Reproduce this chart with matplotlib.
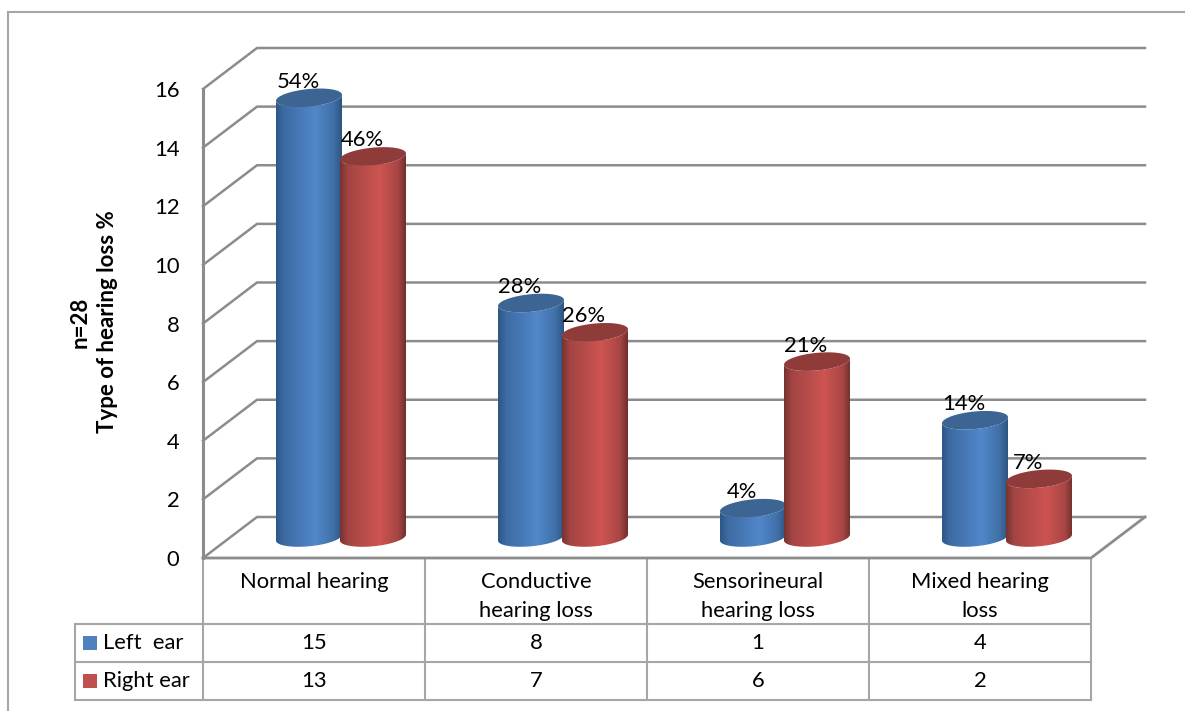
import numpy as np
import matplotlib
matplotlib.use('Agg')
import matplotlib.pyplot as plt
from matplotlib.patches import Polygon, Rectangle

plt.rcParams['font.family'] = ['Lato', 'DejaVu Sans']

categories = ['Normal hearing', 'Conductive\nhearing loss', 'Sensorineural\nhearing loss', 'Mixed hearing\nloss']
left_ear = [15, 8, 1, 4]
right_ear = [13, 7, 6, 2]
left_pct = ['54%', '28%', '4%', '14%']
right_pct = ['46%', '26%', '21%', '7%']
y_ticks = [0, 2, 4, 6, 8, 10, 12, 14, 16]

GRID = '#8c8c8c'
TABLE = '#a6a6a6'
FS = 15.8

W, H = 1185, 711
fig = plt.figure(figsize=(W / 100, H / 100), dpi=100)

# overlay in pixel units for the outer frame and the data table
bg = fig.add_axes([0, 0, 1, 1])
bg.set_xlim(0, W)
bg.set_ylim(H, 0)
bg.axis('off')

# plot area is the front plane of the 3D box
ax = fig.add_axes([203 / W, 1 - 558 / H, 888 / W, 469 / H])
ax.set_xlim(0, 4)
ax.set_ylim(0, 16)
ax.patch.set_alpha(0)
for s in ax.spines.values():
    s.set_visible(False)

# box depth in data units
DX = 54 / 222
DY = 41 / 29.31

for v in y_ticks:
    ax.plot([0, DX, 4 + DX], [v, v + DY, v + DY], color=GRID, lw=1.8, clip_on=False, zorder=1)
ax.plot([0, 0], [0, 16], color=GRID, lw=2.2, clip_on=False, zorder=1)
ax.plot([0, 4, 4 + DX], [0, 0, DY], color=GRID, lw=2.0, clip_on=False, zorder=1)

ax.set_xticks([])
ax.set_yticks(y_ticks)
ax.tick_params(axis='y', length=0, pad=17, labelsize=FS)


def draw_cylinder(cx, value, stops, top_color, z):
    a = 33 / 222   # radius across
    b = 8.8 / 29.31  # radius in depth
    tilt = 3 / 29.31
    base = DY / 2
    top = base + value
    t = np.linspace(0, np.pi, 60)
    # bottom edge runs left to right, then back along the rear of the top edge
    bx = cx - a * np.cos(t)
    by = base - b * np.sin(t) + tilt * np.cos(t) * -1
    tx = cx + a * np.cos(t)
    ty = top - b * np.sin(t) + tilt * np.cos(t)
    body = np.column_stack([np.r_[bx, tx], np.r_[by, ty]])

    pos = [0, 0.12, 0.6, 0.88, 1]
    g = np.linspace(0, 1, 256)
    rgb = np.array([matplotlib.colors.to_rgb(c) for c in stops])
    img = np.stack([np.interp(g, pos, rgb[:, i]) for i in range(3)], axis=1)[None, :, :]
    im = ax.imshow(img, extent=[cx - a, cx + a, base - 1, top + 1], aspect='auto',
                   zorder=z, clip_on=True, interpolation='bilinear')
    im.set_clip_path(Polygon(body, transform=ax.transData))

    t2 = np.linspace(0, 2 * np.pi, 120)
    lid = np.column_stack([cx + a * np.cos(t2), top + b * np.sin(t2) + tilt * np.cos(t2)])
    ax.add_patch(Polygon(lid, closed=True, fc=top_color, ec='none', zorder=z + 0.1, clip_on=False))
    return cx, top


blue_stops = ['#2d5685', '#3d6ba3', '#5287ca', '#3f6fa6', '#2c5480']
red_stops = ['#763331', '#a34543', '#cd5451', '#a84644', '#6e2e2c']

for i in range(4):
    c = i + 0.5 + DX / 2
    for cx, val, pct, stops, lid, z in [
        (c - 32 / 222, left_ear[i], left_pct[i], blue_stops, '#3c6594', 3 + i),
        (c + 32 / 222, right_ear[i], right_pct[i], red_stops, '#8e3b39', 3.3 + i),
    ]:
        x, top = draw_cylinder(cx, val, stops, lid, z)
        ax.annotate(pct, (x, top), xytext=(-8, 11.5), textcoords='offset points',
                    ha='center', va='center', fontsize=FS, color='black', zorder=10,
                    annotation_clip=False)

# imshow resets the limits
ax.set_xlim(0, 4)
ax.set_ylim(0, 16)

bg.text(94, 322, 'n=28\nType of hearing loss %', rotation=90, ha='center', va='center',
        fontsize=FS + 0.2, fontweight='bold', multialignment='center', linespacing=1.4)

# outer frame
bg.plot([8, 8], [H, 12], color=TABLE, lw=1.5)
bg.plot([8, W], [12, 12], color=TABLE, lw=1.5)

# data table under the plot
col_x = [203, 425, 647, 869, 1091]
row_y = [558, 624, 662, 700]
for x in col_x:
    bg.plot([x, x], [row_y[0], row_y[-1]], color=TABLE, lw=1.5)
for y in row_y[1:]:
    bg.plot([75, col_x[-1]], [y, y], color=TABLE, lw=1.5)
bg.plot([75, 75], [row_y[1], row_y[-1]], color=TABLE, lw=1.5)

for i, name in enumerate(categories):
    mid = (col_x[i] + col_x[i + 1]) / 2
    bg.text(mid, 572, name, ha='center', va='top', fontsize=FS, linespacing=1.55, multialignment='center')
    bg.text(mid, 643, str(left_ear[i]), ha='center', va='center', fontsize=FS)
    bg.text(mid, 681, str(right_ear[i]), ha='center', va='center', fontsize=FS)

for y, name, col in [(643, 'Left  ear', '#4f81bd'), (681, 'Right ear', '#c0504d')]:
    bg.add_patch(Rectangle((83, y - 7), 14, 14, fc=col, ec='none'))
    bg.text(103, y, name, ha='left', va='center', fontsize=FS)

fig.savefig('out.png', dpi=100, facecolor='white')
